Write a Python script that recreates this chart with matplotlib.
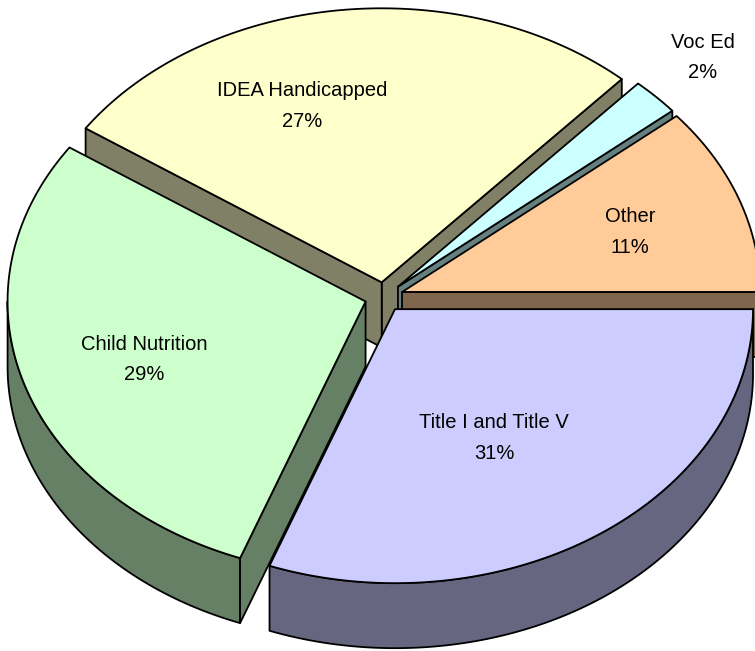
# Exploded 3D pie of federal funding shares, drawn with plain patches.
import numpy as np
import matplotlib.pyplot as plt
from matplotlib.colors import to_rgb
from matplotlib.patches import Polygon

# Data (percent of total), clockwise from 3 o'clock
categories = ["Title I and Title V", "Child Nutrition", "IDEA Handicapped", "Voc Ed", "Other"]
shares = [30.7, 28.8, 27.2, 2.2, 11.1]
pct_labels = ["31%", "29%", "27%", "2%", "11%"]
top_colors = ["#CCCCFF", "#CCFFCC", "#FFFFCC", "#CCFFFF", "#FFCC99"]

# Layout of the pie in pixel units
W, H = 755, 651
cx, cy = 384, 297        # centre of the top ellipse
rx, ry = 358, 274        # ellipse radii (tilted view)
depth = 65               # thickness of the pie
explode = 0.054          # offset of each slice, fraction of radius
label_xy = [(494, 436), (144, 357), (302, 104), (703, 55), (630, 230)]

fig = plt.figure(figsize=(W / 100, H / 100), dpi=100)
ax = fig.add_axes([0, 0, 1, 1])
ax.set_xlim(0, W)
ax.set_ylim(H, 0)
ax.axis("off")

frac = np.array(shares) / sum(shares)
a_hi = 360 - np.concatenate([[0], np.cumsum(frac)[:-1]]) * 360
a_lo = a_hi - frac * 360
mids = (a_lo + a_hi) / 2


def rim(ang, ox, oy, dz=0.0):
    t = np.radians(ang)
    return np.column_stack([cx + ox + rx * np.cos(t), cy + oy - ry * np.sin(t) + dz])


edge = dict(edgecolor="black", linewidth=1.3, joinstyle="round")

# back slices first
order = np.argsort(-np.sin(np.radians(mids)))
for i in order:
    a1, a2 = a_lo[i], a_hi[i]
    m = np.radians(mids[i])
    ox, oy = explode * rx * np.cos(m), -explode * ry * np.sin(m)
    apex = np.array([[cx + ox, cy + oy]])
    down = np.array([[0, depth]])
    side = tuple(c * 0.5 for c in to_rgb(top_colors[i]))

    # outer curved wall, front half only
    lo, hi = max(a1, 180), min(a2, 360)
    if hi > lo:
        arc = rim(np.linspace(lo, hi, 120), ox, oy)
        ax.add_patch(Polygon(np.vstack([arc, (arc + down)[::-1]]), facecolor=side, **edge))

    # radial faces that face the viewer
    for ang, show in [(a1, np.cos(np.radians(a1)) > 1e-9), (a2, np.cos(np.radians(a2)) < -1e-9)]:
        if show:
            p = rim([ang], ox, oy)
            ax.add_patch(Polygon(np.vstack([apex, p, p + down, apex + down]), facecolor=side, **edge))

    # top face
    arc = rim(np.linspace(a1, a2, 200), ox, oy)
    ax.add_patch(Polygon(np.vstack([apex, arc]), facecolor=top_colors[i], **edge))

for i, (x, y) in enumerate(label_xy):
    ax.text(x, y - 7.5, categories[i], ha="center", va="baseline",
            fontsize=14.5, family="Liberation Sans")
    ax.text(x, y + 23, pct_labels[i], ha="center", va="baseline",
            fontsize=14.5, family="Liberation Sans")

fig.savefig("out.png", dpi=100)
